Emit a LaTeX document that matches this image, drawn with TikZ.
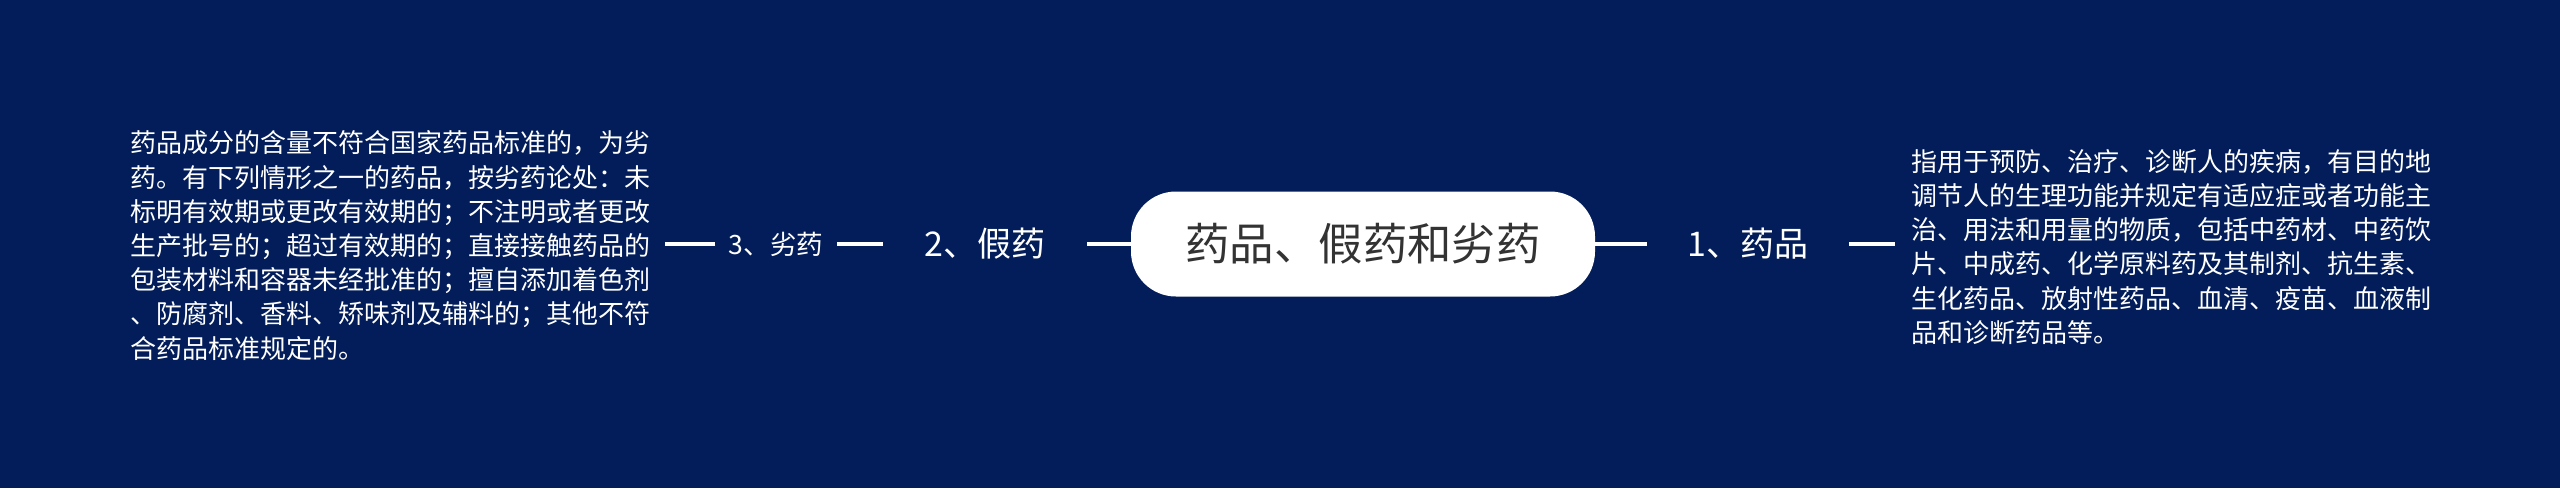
\documentclass[tikz,border=0pt]{standalone}
\usepackage{fontspec}
\newfontfamily\cjk{Noto Sans CJK SC}
\definecolor{bgnavy}{RGB}{2,29,89}
\definecolor{roottext}{RGB}{51,51,51}
\tikzset{
  conn/.style={draw=white, line width=2pt},
  rootbox/.style={fill=white, rounded corners=22.5pt, minimum width=232pt, minimum height=52.5pt, inner sep=0pt, text=roottext, font=\cjk\fontsize{22.2pt}{26pt}\selectfont},
  topic/.style={text=white, inner ysep=0pt, font=\cjk\fontsize{17pt}{20pt}\selectfont},
  subtopic/.style={text=white, inner ysep=0pt, font=\cjk\fontsize{13.3pt}{16pt}\selectfont},
  detail/.style={text=white, align=left, inner ysep=0pt, font=\cjk\fontsize{13pt}{17.1pt}\selectfont}
}
\begin{document}
\begin{tikzpicture}[x=0.5pt,y=-0.5pt]
\fill[bgnavy] (0,0) rectangle (2560,488);
\useasboundingbox (0,0) rectangle (2560,488);

\node[rootbox] (root) at (1363,244) {药品、假药和劣药};

% right branch
\node[topic, inner xsep=20pt] (n1) at (1748,244) {1、药品};
\node[detail, inner xsep=8pt, anchor=west] (d1) at (1895,247) {指用于预防、治疗、诊断人的疾病，有目的地\\调节人的生理功能并规定有适应症或者功能主\\治、用法和用量的物质，包括中药材、中药饮\\片、中成药、化学原料药及其制剂、抗生素、\\生化药品、放射性药品、血清、疫苗、血液制\\品和诊断药品等。};

% left branch
\node[topic, inner xsep=20.5pt] (n2) at (985,244) {2、假药};
\node[subtopic, inner xsep=6.5pt] (n3) at (776,244) {3、劣药};
\node[detail, inner xsep=7pt, anchor=east] (d3) at (665,245.5) {药品成分的含量不符合国家药品标准的，为劣\\药。有下列情形之一的药品，按劣药论处：未\\标明有效期或更改有效期的；不注明或者更改\\生产批号的；超过有效期的；直接接触药品的\\包装材料和容器未经批准的；擅自添加着色剂\\、防腐剂、香料、矫味剂及辅料的；其他不符\\合药品标准规定的。};

\draw[conn] (root.east) -- (n1.west |- root.east);
\draw[conn] (n1.east) -- (d1.west |- n1.east);
\draw[conn] (root.west) -- (n2.east |- root.west);
\draw[conn] (n2.west) -- (n3.east |- n2.west);
\draw[conn] (n3.west) -- (d3.east |- n3.west);
\end{tikzpicture}
\end{document}
